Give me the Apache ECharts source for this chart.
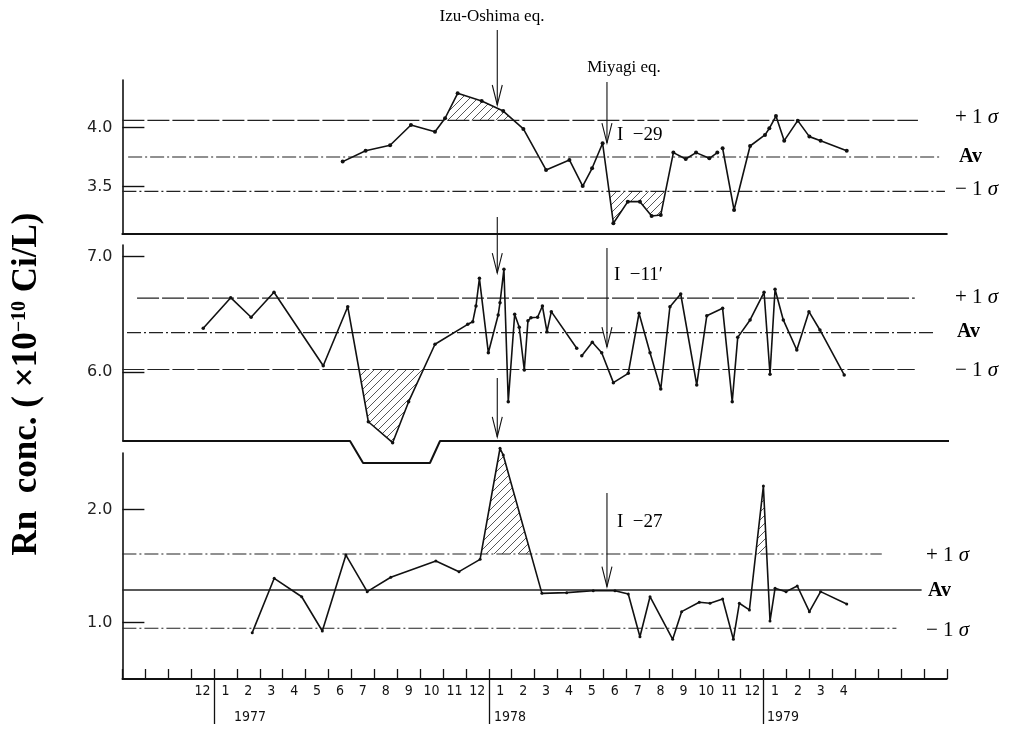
<!DOCTYPE html>
<html><head><meta charset="utf-8">
<script src="https://cdn.jsdelivr.net/npm/echarts@6/dist/echarts.min.js"></script>
<style>html,body{margin:0;padding:0;background:#fff}#c{width:1022px;height:731px}</style>
</head><body><div id="c"></div>
<script>
// x unit: months, 0 = start of Jan 1977
const monthLabels = ['12','1','2','3','4','5','6','7','8','9','10','11','12','1','2','3','4','5','6','7','8','9','10','11','12','1','2','3','4'];
const monthLabelFirst = -1; // Dec 1976
const yearLabels = ['1977', '1978', '1979'];
const yearStarts = [0, 12, 24];
const yearLabelPos = [1.57, 12.93, 24.85];

const p1Ticks = [3.5, 4.0];
const p2Ticks = [6.0, 7.0];
const p3Ticks = [1.0, 2.0];

const p1Sigma = { plus: 4.06, av: 3.75, minus: 3.46 };
const p2Sigma = { plus: 6.64, av: 6.34, minus: 6.02 };
const p3Sigma = { plus: 1.606, av: 1.288, minus: 0.949 };

// I-29
const p1Data = [[5.62,3.711],[6.62,3.803],[7.69,3.849],[8.60,4.020],[9.65,3.964],[10.09,4.077],[10.64,4.288],[11.69,4.223],[12.63,4.138],[13.51,3.987],[14.50,3.641],[15.52,3.725],[16.10,3.505],[16.51,3.655],[16.97,3.866],[17.44,3.191],[18.07,3.373],[18.60,3.373],[19.11,3.252],[19.51,3.261],[20.06,3.787],[20.60,3.733],[21.05,3.787],[21.63,3.739],[21.98,3.787],null,[22.21,3.824],[22.71,3.303],[23.41,3.843],[24.06,3.936],[24.25,3.992],[24.54,4.096],[24.90,3.888],[25.49,4.057],[26.00,3.922],[26.49,3.888],[27.63,3.803]];
// I-11'
const p2Data = [[-0.47,6.378],[0.73,6.643],[1.62,6.473],[2.62,6.690],[4.77,6.053],[5.84,6.565],[6.74,5.567],[7.80,5.385],[8.50,5.741],[9.65,6.239],[11.08,6.412],[11.30,6.435],[11.44,6.571],[11.59,6.811],[11.98,6.166],[12.41,6.493],[12.49,6.600],[12.66,6.889],[12.85,5.741],[13.13,6.499],[13.33,6.386],[13.55,6.016],[13.71,6.443],[13.84,6.469],[14.13,6.473],[14.34,6.571],[14.54,6.348],[14.73,6.522],[15.84,6.204],null,[16.06,6.140],[16.52,6.256],[16.93,6.166],[17.44,5.906],[18.09,5.987],[18.56,6.508],[19.04,6.166],[19.51,5.851],[19.91,6.565],[20.38,6.675],[21.08,5.886],[21.52,6.487],[22.21,6.551],[22.63,5.741],[22.87,6.299],[23.41,6.450],[24.02,6.690],[24.28,5.979],[24.50,6.716],[24.86,6.450],[25.45,6.189],[25.98,6.522],[26.46,6.363],[27.52,5.973]];
// I-27
const p3Data = [[1.67,0.910],[2.63,1.391],[3.83,1.228],[4.73,0.925],[5.76,1.597],[6.69,1.273],[7.72,1.400],[9.69,1.544],[10.70,1.450],[11.62,1.559],[12.49,2.542],[12.63,2.482],[14.32,1.258],[15.40,1.264],[16.56,1.281],[17.51,1.281],[18.09,1.252],[18.60,0.874],[19.04,1.228],[20.03,0.851],[20.42,1.096],[21.19,1.179],[21.66,1.170],[22.21,1.208],[22.68,0.851],[22.94,1.170],[23.38,1.111],[23.99,2.208],[24.28,1.013],[24.50,1.303],[24.98,1.273],[25.47,1.323],[26.00,1.096],[26.49,1.273],[27.63,1.164]];

// hatched excursions: [from, to, side (+1 above +1σ, -1 below -1σ)]
const p1Hatch = [[9.65,13.51,1],[16.97,20.06,-1]];
const p2Hatch = [[5.84,9.65,-1]];
const p3Hatch = [[11.62,14.32,1],[23.38,24.28,1]];

// earthquake arrows: [month, top value, tip value]
const p1Arrows = [[12.37,4.822,4.189],[17.16,4.383,3.868]];
const p2Arrows = [[12.37,7.343,6.857],[17.16,7.074,6.215]];
const p3Arrows = [[12.37,3.164,2.642],[17.16,2.146,1.317]];

// lower boundary of the I-11' panel (with notch)
const p2Boundary = [[-4,5.4],[5.94,5.4],[6.51,5.209],[9.43,5.209],[9.87,5.4],[32.36,5.4]];

const chart = echarts.init(document.getElementById('c'), null, { renderer: 'canvas', width: 1022, height: 731 });

const GL = 122.4, GW = 824.4;
const INK = '#111';
const SERIF = '"Liberation Serif", "DejaVu Serif", serif';
const SANS = '"DejaVu Sans", sans-serif';
const NARROW = '"Liberation Sans Narrow", "DejaVu Sans Condensed", "DejaVu Sans", sans-serif';

function hatchCanvas() {
  const c = document.createElement('canvas'); c.width = 8; c.height = 8;
  const g = c.getContext('2d'); g.strokeStyle = '#444'; g.lineWidth = 0.9;
  g.beginPath(); g.moveTo(0, 8); g.lineTo(8, 0); g.moveTo(-2, 2); g.lineTo(2, -2); g.moveTo(6, 10); g.lineTo(10, 6); g.stroke();
  return c;
}
const hatchFill = { image: hatchCanvas(), repeat: 'repeat' };

function segments(pts) {
  const out = []; let cur = [];
  pts.forEach(p => { if (p === null) { if (cur.length) out.push(cur); cur = []; } else cur.push(p); });
  if (cur.length) out.push(cur);
  return out;
}
function hatchPoly(pts, thr, side, a, b) {
  const f = v => side > 0 ? Math.max(v, thr) : Math.min(v, thr);
  const out = [];
  for (let i = 0; i < pts.length - 1; i++) {
    const p0 = pts[i], p1 = pts[i + 1];
    if (!p0 || !p1) continue;
    if (p1[0] < a || p0[0] > b) continue;
    const pieces = [p0];
    if ((p0[1] - thr) * (p1[1] - thr) < 0) {
      const t = (thr - p0[1]) / (p1[1] - p0[1]);
      pieces.push([p0[0] + t * (p1[0] - p0[0]), thr]);
    }
    pieces.push(p1);
    pieces.forEach(p => {
      if (p[0] >= a && p[0] <= b) {
        const last = out[out.length - 1];
        if (!last || last[0] !== p[0]) out.push([p[0], f(p[1])]);
      }
    });
  }
  return [[out[0][0], thr]].concat(out, [[out[out.length - 1][0], thr]]);
}

function dataSeries(idx, pts, symSize) {
  return segments(pts).map(seg => ({
    type: 'line', xAxisIndex: idx, yAxisIndex: idx, data: seg, clip: false,
    symbol: 'circle', symbolSize: symSize, showSymbol: symSize > 0,
    itemStyle: { color: INK }, lineStyle: { color: INK, width: 1.6 }, z: 5, silent: true
  }));
}
function hline(idx, v, x0, x1, type, width) {
  return { type: 'line', xAxisIndex: idx, yAxisIndex: idx, data: [[x0, v], [x1, v]], symbol: 'none', silent: true,
    lineStyle: { color: '#222', width: width || 1.2, type: type }, z: 2 };
}
function hatchSeries(idx, pts, regions, sig) {
  return { type: 'custom', xAxisIndex: idx, yAxisIndex: idx, silent: true, z: 1,
    data: regions.map(r => [r[0], r[1]]), encode: { x: 0, y: 1 },
    renderItem: (params, api) => {
      const r = regions[params.dataIndex];
      const thr = r[2] > 0 ? sig.plus : sig.minus;
      const poly = hatchPoly(pts, thr, r[2], r[0], r[1]).map(p => api.coord(p));
      return { type: 'polygon', shape: { points: poly }, style: { fill: hatchFill, stroke: null } };
    } };
}
function arrowSeries(idx, arrows) {
  return { type: 'custom', xAxisIndex: idx, yAxisIndex: idx, silent: true, z: 6, clip: false,
    data: arrows, encode: { x: 0, y: 1 },
    renderItem: (params, api) => {
      const top = api.coord([api.value(0), api.value(1)]);
      const tip = api.coord([api.value(0), api.value(2)]);
      return { type: 'group', children: [
        { type: 'line', shape: { x1: top[0], y1: top[1], x2: tip[0], y2: tip[1] }, style: { stroke: INK, lineWidth: 1.1 } },
        { type: 'polyline', shape: { points: [[tip[0] - 5, tip[1] - 20], [tip[0], tip[1]], [tip[0] + 5, tip[1] - 20]] }, style: { stroke: INK, lineWidth: 1.1, fill: null } }
      ] };
    } };
}

const DASHDOT = [14, 3, 2, 3];
const LONGDASH = [22, 3];

function yAxis(idx, min, max, ticks) {
  return { type: 'value', gridIndex: idx, min: min, max: max,
    axisLine: { show: true, onZero: false, lineStyle: { color: INK, width: 1.6 } },
    axisTick: { show: true, inside: true, length: 22, customValues: ticks, lineStyle: { color: INK, width: 1.4 } },
    axisLabel: { show: true, customValues: ticks, margin: 10, color: '#222', fontFamily: SANS, fontSize: 16,
      formatter: v => v.toFixed(1) },
    splitLine: { show: false } };
}

const monthLabelValues = monthLabels.map((_, i) => monthLabelFirst + i + 0.5);

const option = {
  animation: false,
  backgroundColor: '#fff',
  grid: [
    { left: GL, width: GW, top: 80, height: 154, outerBoundsMode: 'none' },
    { left: GL, width: GW, top: 245, height: 196, outerBoundsMode: 'none' },
    { left: GL, width: GW, top: 453, height: 226, outerBoundsMode: 'none' }
  ],
  xAxis: [
    { type: 'value', gridIndex: 0, min: -4, max: 32, axisLine: { show: true, onZero: false, lineStyle: { color: INK, width: 2 } },
      axisTick: { show: false }, axisLabel: { show: false }, splitLine: { show: false } },
    { type: 'value', gridIndex: 1, min: -4, max: 32, show: false, splitLine: { show: false } },
    { type: 'value', gridIndex: 2, min: -4, max: 32, interval: 1, position: 'bottom',
      axisLine: { show: true, onZero: false, lineStyle: { color: INK, width: 1.8 } },
      axisTick: { show: true, inside: true, length: 10, lineStyle: { color: INK, width: 1.3 } },
      axisLabel: { show: true, customValues: monthLabelValues, margin: 5, color: '#111', fontFamily: NARROW, fontSize: 14,
        formatter: v => monthLabels[Math.round(v - 0.5) - monthLabelFirst] },
      splitLine: { show: false } },
    { type: 'value', gridIndex: 2, min: -4, max: 32, position: 'bottom', offset: 0,
      axisLine: { show: false, onZero: false },
      axisTick: { show: true, inside: false, length: 45, customValues: yearStarts, lineStyle: { color: INK, width: 1.3 } },
      axisLabel: { show: true, customValues: yearLabelPos, margin: 31, color: '#111', fontFamily: NARROW, fontSize: 14,
        formatter: v => { let k = 0; yearLabelPos.forEach((p, i) => { if (Math.abs(p - v) < 1e-6) k = i; }); return yearLabels[k]; } },
      splitLine: { show: false } }
  ],
  yAxis: [
    yAxis(0, 3.1, 4.4, p1Ticks),
    yAxis(1, 5.4, 7.1, p2Ticks),
    yAxis(2, 0.5, 2.5, p3Ticks)
  ],
  series: [].concat(
    [hatchSeries(0, p1Data, p1Hatch, p1Sigma), hatchSeries(1, p2Data, p2Hatch, p2Sigma), hatchSeries(2, p3Data, p3Hatch, p3Sigma)],
    [hline(0, p1Sigma.plus, -4, 30.74, LONGDASH), hline(0, p1Sigma.av, -3.75, 31.79, DASHDOT), hline(0, p1Sigma.minus, -4, 31.92, DASHDOT)],
    [hline(1, p2Sigma.plus, -3.36, 30.6, LONGDASH), hline(1, p2Sigma.av, -3.8, 31.4, DASHDOT), hline(1, p2Sigma.minus, -4, 30.6, LONGDASH)],
    [hline(2, p3Sigma.plus, -4, 29.16, DASHDOT), hline(2, p3Sigma.av, -4, 30.9, 'solid', 1.5), hline(2, p3Sigma.minus, -4, 29.8, DASHDOT)],
    [{ type: 'line', xAxisIndex: 1, yAxisIndex: 1, data: p2Boundary, symbol: 'none', clip: false, silent: true,
       lineStyle: { color: INK, width: 2 }, z: 3 }],
    dataSeries(0, p1Data, 4), dataSeries(1, p2Data, 3.5), dataSeries(2, p3Data, 3),
    [arrowSeries(0, p1Arrows), arrowSeries(1, p2Arrows), arrowSeries(2, p3Arrows)]
  ),
  graphic: [
    { type: 'text', x: 27, y: 384, rotation: Math.PI / 2, silent: true,
      style: { text: '{a|Rn  conc. ( ×10}{s|−10}{a| Ci/L)}', align: 'center', verticalAlign: 'middle', fill: '#000',
        rich: { a: { fontFamily: SERIF, fontWeight: 'bold', fontSize: 35, fill: '#000' },
                s: { fontFamily: SERIF, fontWeight: 'bold', fontSize: 20, fill: '#000', verticalAlign: 'top' } } } },
    { type: 'text', x: 492, y: 17, silent: true, style: { text: 'Izu-Oshima eq.', font: '17px ' + SERIF, fill: '#000', align: 'center', verticalAlign: 'middle' } },
    { type: 'text', x: 624, y: 68, silent: true, style: { text: 'Miyagi eq.', font: '17px ' + SERIF, fill: '#000', align: 'center', verticalAlign: 'middle' } },
    { type: 'text', x: 617, y: 135, silent: true, style: { text: 'I  −29', font: '19px ' + SERIF, fill: '#000', align: 'left', verticalAlign: 'middle' } },
    { type: 'text', x: 614, y: 275, silent: true, style: { text: 'I  −11′', font: '19px ' + SERIF, fill: '#000', align: 'left', verticalAlign: 'middle' } },
    { type: 'text', x: 617, y: 522, silent: true, style: { text: 'I  −27', font: '19px ' + SERIF, fill: '#000', align: 'left', verticalAlign: 'middle' } }
  ].concat(
    [[955, 117, 959, 157, 955, 189], [955, 297, 957, 332, 955, 370], [926, 555, 928, 591, 926, 630]].flatMap(r => [
      { type: 'text', x: r[0], y: r[1], silent: true, style: { text: '{a|+ 1 }{s|σ}', align: 'left', verticalAlign: 'middle',
          rich: { a: { fontFamily: SERIF, fontSize: 21, fill: '#000' }, s: { fontFamily: SERIF, fontStyle: 'italic', fontSize: 21, fill: '#000' } } } },
      { type: 'text', x: r[2], y: r[3], silent: true, style: { text: 'Av', font: 'bold 20px ' + SERIF, fill: '#000', align: 'left', verticalAlign: 'middle' } },
      { type: 'text', x: r[4], y: r[5], silent: true, style: { text: '{a|− 1 }{s|σ}', align: 'left', verticalAlign: 'middle',
          rich: { a: { fontFamily: SERIF, fontSize: 21, fill: '#000' }, s: { fontFamily: SERIF, fontStyle: 'italic', fontSize: 21, fill: '#000' } } } }
    ])
  )
};
chart.setOption(option);
</script>
</body></html>
